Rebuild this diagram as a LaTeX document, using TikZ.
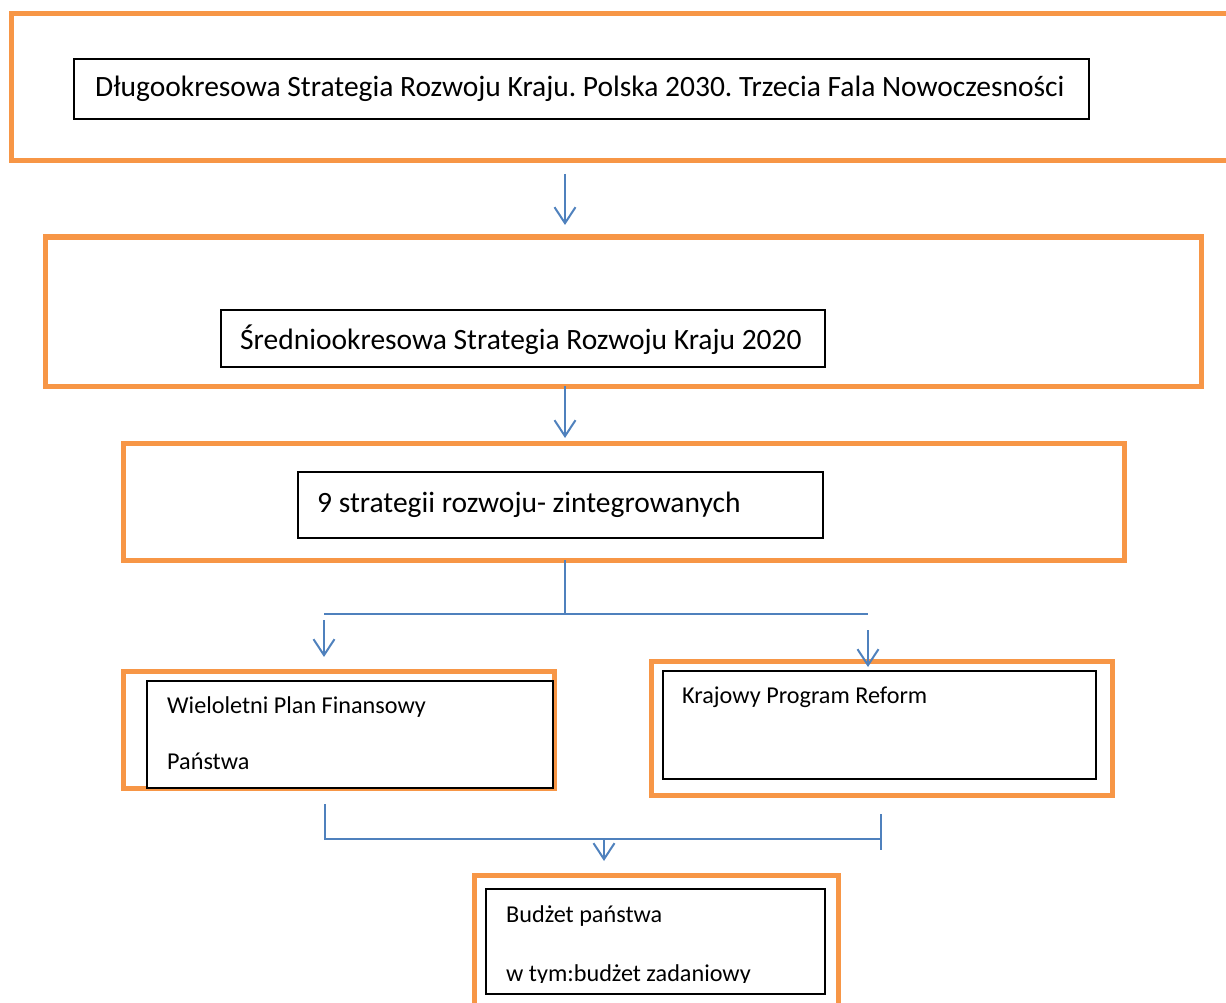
\documentclass[tikz,border=0pt]{standalone}
\usepackage{fontspec}
\setmainfont{Carlito}
\usetikzlibrary{arrows.meta}
\definecolor{pomarancz}{RGB}{247,150,70}
\definecolor{niebieski}{RGB}{79,129,189}
\frenchspacing

\begin{document}
\begin{tikzpicture}[x=1pt,y=-1pt,
        ramka/.style={draw=pomarancz, line width=5pt, outer sep=0pt, inner sep=0pt},
        pole/.style={draw=black, line width=1.3pt, fill=white, outer sep=0pt, inner sep=0pt},
        duzy/.style={anchor=base west, inner sep=0pt, font=\fontsize{29.5}{35}\selectfont},
        maly/.style={anchor=base west, inner sep=0pt, font=\fontsize{24.2}{29}\selectfont},
        linia/.style={draw=niebieski, line width=2pt},
        strz/.style={linia, -{Straight Barb[length=16pt,width=21pt,line width=2pt]}}]
    \clip (0,0) rectangle (1226,1003);
    % ramki
    \node[ramka, minimum width=1229, minimum height=147] (r1) at (625.5,87.5) {};
    \node[ramka, minimum width=1155.5, minimum height=149] (r2) at (623.25,311.5) {};
    \node[ramka, minimum width=1000.5, minimum height=117] (r3) at (623.75,501.5) {};
    \node[ramka, minimum width=431, minimum height=117] (r4) at (338.5,729.5) {};
    \node[ramka, minimum width=461, minimum height=134] (r5) at (881.5,728) {};
    \node[ramka, minimum width=364, minimum height=137] (r6) at (656,943.5) {};
    % pola z tekstem
    \node[pole, minimum width=1015, minimum height=60] (p1) at (581.5,89) {};
    \node[pole, minimum width=604, minimum height=57] (p2) at (523,338.5) {};
    \node[pole, minimum width=525, minimum height=66] (p3) at (560.5,505) {};
    \node[pole, minimum width=406, minimum height=107] (p4) at (350,734.5) {};
    \node[pole, minimum width=433, minimum height=108] (p5) at (879.5,725) {};
    \node[pole, minimum width=339, minimum height=105] (p6) at (655.5,941.5) {};
    \node[duzy] (t1) at (95,97) {Długookresowa Strategia Rozwoju Kraju. Polska 2030. Trzecia Fala Nowoczesności};
    \node[duzy] (t2) at (240,349) {Średniookresowa Strategia Rozwoju Kraju 2020};
    \node[duzy] (t3) at (317,512) {9 strategii rozwoju- zintegrowanych};
    \node[maly] (t4a) at (167,713) {Wieloletni Plan Finansowy};
    \node[maly] (t4b) at (167,769) {Państwa};
    \node[maly] (t5) at (682,703) {Krajowy Program Reform};
    \node[maly] (t6a) at (506,922) {Budżet państwa};
    \begin{scope}
        \clip (486,889) rectangle (825,982);
        \node[maly] (t6b) at (506,981) {w tym:budżet zadaniowy};
    \end{scope}
    % strzalki
    \coordinate (os) at (565,0);
    \coordinate (rozg) at (565,614);
    \coordinate (lewy) at (324,614);
    \coordinate (prawy) at (868,614);
    \coordinate (l2) at (325,839);
    \coordinate (p2k) at (881,839);
    \coordinate (sr) at (604,839);
    \draw[strz] ([yshift=-13pt]r1.south -| os) -- ([yshift=12pt]r2.north -| os);
    \draw[strz] (r2.south -| os) -- ([yshift=5pt]r3.north -| os);
    \draw[linia] (r3.south -| rozg) -- (rozg);
    \draw[linia] (lewy) -- (prawy);
    \draw[strz] ([yshift=-6pt]lewy) -- ([yshift=14pt]r4.north -| lewy);
    \draw[strz] ([yshift=-16pt]prawy) -- ([yshift=-6pt]r5.north -| prawy);
    \draw[linia] ([yshift=-16pt]r4.south -| l2) -- (l2) -- (p2k);
    \draw[linia] ([yshift=25pt]p2k) -- ([yshift=-11pt]p2k);
    \draw[strz] (sr) -- ([yshift=14pt]r6.north -| sr);
\end{tikzpicture}
\end{document}
